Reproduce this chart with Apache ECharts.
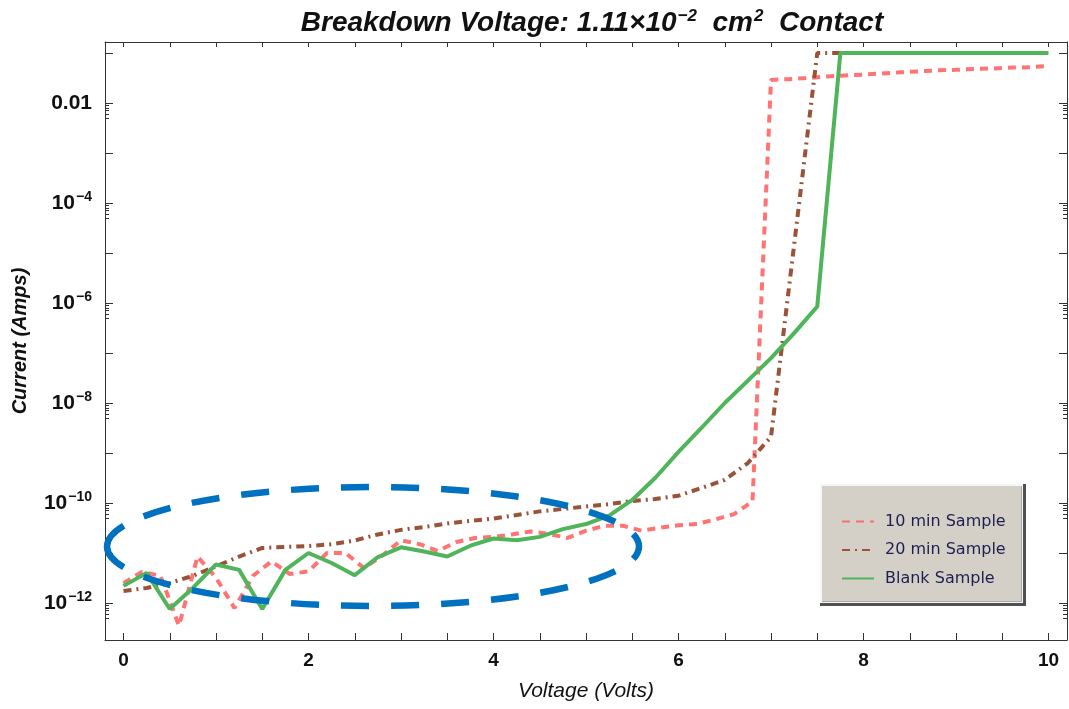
<!DOCTYPE html>
<html><head><meta charset="utf-8">
<script src="https://cdn.jsdelivr.net/npm/echarts@6/dist/echarts.min.js"></script>
<style>html,body{margin:0;padding:0;background:#fff}#c{width:1069px;height:709px}</style>
</head><body><div id="c"></div>
<script>
// ---- data (voltage in V, current in A) ----
const seriesNames = ['10 min Sample', '20 min Sample', 'Blank Sample'];

const volt10 = [0,0.2,0.4,0.6,0.8,1.0,1.2,1.4,1.6,1.8,2.0,2.2,2.4,2.6,2.8,3.0,3.2,3.4,3.6,3.8,4.0,4.2,4.4,4.6,4.8,5.0,5.2,5.4,5.6,5.8,6.0,6.2,6.4,6.6,6.8,7.0,7.2,7.4,7.6,7.8,8.0,8.2,8.4,8.6,8.8,9.0,9.2,9.4,9.6,9.8,10.0];
const amps10 = [2.5e-12,4.2e-12,3.5e-12,3.5e-13,8.5e-12,3.2e-12,7.9e-13,3.5e-12,6.8e-12,3.8e-12,4.3e-12,1.0e-11,1.0e-11,5.0e-12,8.9e-12,1.8e-11,1.5e-11,1.1e-11,1.66e-11,2.0e-11,2.1e-11,2.35e-11,2.7e-11,2.4e-11,2.0e-11,2.8e-11,3.5e-11,3.5e-11,2.8e-11,3.2e-11,3.6e-11,3.8e-11,4.7e-11,6.0e-11,1.07e-10,0.029,0.030,0.0316,0.034,0.0355,0.037,0.039,0.041,0.043,0.045,0.046,0.048,0.049,0.051,0.052,0.055];

const volt20 = [0,0.25,0.5,0.75,1.0,1.25,1.5,1.75,2.0,2.25,2.5,2.75,3.0,3.25,3.5,3.75,4.0,4.25,4.5,4.75,5.0,5.25,5.5,5.75,6.0,6.25,6.5,6.75,7.0,7.25,7.5,7.75,8.0,8.25,8.5,8.75,9.0,9.25,9.5,9.75,10.0];
const amps20 = [1.74e-12,2.0e-12,2.5e-12,3.5e-12,5.4e-12,8.5e-12,1.26e-11,1.32e-11,1.38e-11,1.5e-11,1.78e-11,2.35e-11,2.9e-11,3.3e-11,3.9e-11,4.4e-11,4.9e-11,5.75e-11,6.8e-11,7.6e-11,8.5e-11,9.5e-11,1.1e-10,1.2e-10,1.4e-10,2.0e-10,2.9e-10,6.3e-10,2.1e-9,1.45e-5,0.1,0.1,0.1,0.1,0.1,0.1,0.1,0.1,0.1,0.1,0.1];

const voltBlank = [0,0.25,0.5,0.75,1.0,1.25,1.5,1.75,2.0,2.25,2.5,2.75,3.0,3.25,3.5,3.75,4.0,4.25,4.5,4.75,5.0,5.25,5.5,5.75,6.0,6.25,6.5,6.75,7.0,7.25,7.5,7.75,8.0,8.25,8.5,8.75,9.0,9.25,9.5,9.75,10.0];
const ampsBlank = [2.2e-12,4.0e-12,7.6e-13,2.0e-12,5.9e-12,4.6e-12,7.6e-13,4.6e-12,1.0e-11,6.3e-12,3.6e-12,8.3e-12,1.3e-11,1.07e-11,8.5e-12,1.4e-11,1.95e-11,1.8e-11,2.1e-11,3.0e-11,3.8e-11,5.6e-11,1.15e-10,3.2e-10,1.05e-9,3.2e-9,1.0e-8,2.8e-8,7.9e-8,2.5e-7,8.5e-7,0.1,0.1,0.1,0.1,0.1,0.1,0.1,0.1,0.1,0.1];

const xTickValues = [0,0.5,1,1.5,2,2.5,3,3.5,4,4.5,5,5.5,6,6.5,7,7.5,8,8.5,9,9.5,10];
const xLabelValues = [0,2,4,6,8,10];
const yLabelExps = [-12,-10,-8,-6,-4,-2];
const yDecadeExps = [-12,-11,-10,-9,-8,-7,-6,-5,-4,-3,-2,-1];
const yMinorMantissas = [5,6,7,8,9];

// ---- build ----
const FONT = "'Liberation Sans', Arial, sans-serif";
const toPts = (v, a) => v.map((x, i) => [x, Math.log10(a[i])]);
const yMinor = [];
yLabelExps.forEach(e => yMinorMantissas.forEach(m => yMinor.push(e - 1 + Math.log10(m))));

const YMIN = -12.74, YMAX = -0.78, XMIN = -0.2, XMAX = 10.2;
const lineCol = '#333';

function yFmt(v) {
  const e = Math.round(v);
  if (e === -2) return '{b|0.01}';
  return '{b|10}{s|\u2212' + (-e) + '}';
}
const yRich = {
  b: {fontSize: 21, fontWeight: 'bold', fontFamily: FONT, color: '#111'},
  s: {fontSize: 14, fontWeight: 'bold', fontFamily: FONT, color: '#111', padding: [0, 0, 11, 1]}
};

function xAx(pos, main) {
  return {
    type: 'value', min: XMIN, max: XMAX, position: pos,
    axisLine: {show: true, onZero: false, lineStyle: {color: lineCol, width: 1}},
    axisTick: {show: true, inside: true, length: main ? 7 : 5, customValues: xTickValues, lineStyle: {color: lineCol}},
    axisLabel: main ? {show: true, customValues: xLabelValues, fontSize: 19, fontWeight: 'bold', fontFamily: FONT, color: '#111', margin: 11} : {show: false},
    splitLine: {show: false},
    name: main ? 'Voltage (Volts)' : '',
    nameLocation: 'middle', nameGap: 41,
    nameTextStyle: {fontSize: 21, fontStyle: 'italic', fontFamily: FONT, color: '#111'}
  };
}
function yAx(pos, minor, labelled) {
  return {
    type: 'value', min: YMIN, max: YMAX, position: pos,
    axisLine: {show: !minor, onZero: false, lineStyle: {color: lineCol, width: 1}},
    axisTick: {show: true, inside: true, length: minor ? 4 : 8, customValues: minor ? yMinor : yDecadeExps, lineStyle: {color: lineCol}},
    axisLabel: labelled ? {show: true, customValues: yLabelExps, formatter: yFmt, rich: yRich, margin: 13} : {show: false},
    splitLine: {show: false},
    name: labelled ? 'Current (Amps)' : '',
    nameLocation: 'middle', nameGap: 75, nameRotate: 90,
    nameTextStyle: {fontSize: 20, fontStyle: 'italic', fontWeight: 'bold', fontFamily: FONT, color: '#111'}
  };
}

const chart = echarts.init(document.getElementById('c'), null, {renderer: 'canvas'});
chart.setOption({
  animation: false,
  backgroundColor: '#fff',
  title: {
    text: '{t|Breakdown Voltage: 1.11\u00d710}{s|\u22122}{t|  cm}{s|2}{t|  Contact}',
    left: 587, top: 3, textAlign: 'center',
    textStyle: {
      rich: {
        t: {fontSize: 28, fontStyle: 'italic', fontWeight: 'bold', fontFamily: FONT, color: '#111'},
        s: {fontSize: 17, fontStyle: 'italic', fontWeight: 'bold', fontFamily: FONT, color: '#111', padding: [0, 0, 14, 1]}
      }
    }
  },
  grid: {left: 105, right: 2, top: 42, bottom: 69, containLabel: false},
  xAxis: [xAx('bottom', true), xAx('top', false)],
  yAxis: [yAx('left', false, true), yAx('left', true, false), yAx('right', false, false), yAx('right', true, false)],
  legend: {
    data: seriesNames, orient: 'vertical', left: 836, top: 508,
    itemWidth: 32, itemHeight: 14, itemGap: 11.5, z: 10,
    lineStyle: {width: 2},
    itemStyle: {opacity: 0},
    textStyle: {fontSize: 16, fontFamily: "'DejaVu Sans', sans-serif", color: '#1e1e50', lineHeight: 17, padding: [0, 0, 0, 6]}
  },
  graphic: [
    {type: 'rect', z: 3, shape: {x: 820, y: 484, width: 206, height: 122}, style: {fill: '#505050'}},
    {type: 'rect', z: 3, shape: {x: 820, y: 484, width: 203, height: 119}, style: {fill: '#f6f6f6'}},
    {type: 'rect', z: 3, shape: {x: 822, y: 486, width: 200, height: 116}, style: {fill: '#a8a8a8'}},
    {type: 'rect', z: 3, shape: {x: 822, y: 486, width: 199, height: 115}, style: {fill: '#d4d0c8'}},
    {type: 'ellipse', z: 50, shape: {cx: 373, cy: 546.5, rx: 266, ry: 59.5},
     style: {fill: null, stroke: '#0070c0', lineWidth: 6.5, lineDash: [28, 22]}}
  ],
  series: [
    {name: seriesNames[0], type: 'line', data: toPts(volt10, amps10), symbol: 'none', z: 2,
     lineStyle: {color: '#ff6464', width: 4, type: [8, 6], opacity: 0.9}, itemStyle: {color: '#ff6464'}},
    {name: seriesNames[1], type: 'line', data: toPts(volt20, amps20), symbol: 'none', z: 3,
     lineStyle: {color: '#9a5238', width: 4, type: [8, 5, 2, 5]}, itemStyle: {color: '#9a5238'}},
    {name: seriesNames[2], type: 'line', data: toPts(voltBlank, ampsBlank), symbol: 'none', z: 4,
     lineStyle: {color: '#4fb45a', width: 4}, itemStyle: {color: '#4fb45a'}}
  ]
});
</script></body></html>
